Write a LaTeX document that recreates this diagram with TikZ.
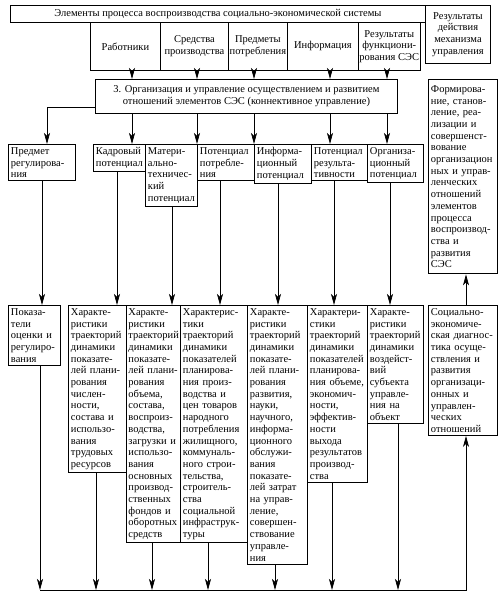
\documentclass[tikz,border=0pt]{standalone}
\usepackage{fontspec}
\setmainfont{Liberation Serif}
\usetikzlibrary{arrows.meta}

\tikzset{
  blk/.style={draw, line width=0.9pt, anchor=north west, align=left, inner xsep=2.5pt, inner ysep=3pt},
  cblk/.style={draw, line width=0.9pt, anchor=north west, align=center, inner sep=1pt},
  arr/.style={line width=0.7pt, -{Stealth[length=11pt,width=6pt,inset=3pt]}}
}

\begin{document}
\begin{tikzpicture}[x=1pt, y=-1pt, font=\fontsize{10.5}{11.7}\selectfont]
  \useasboundingbox (0,0) rectangle (500,602);
  % 顶部方框
  \node[cblk, minimum width=415pt, minimum height=17pt] (top) at (10,5) {Элементы процесса воспроизводства социально-экономической системы};
  \node[cblk, minimum width=65pt, minimum height=58pt] (res) at (425,5) {Результаты\\действия\\механизма\\управления};
  \node[cblk, minimum width=70pt, minimum height=48pt] (w1) at (90,22) {Работники};
  \node[cblk, minimum width=68pt, minimum height=48pt] (w2) at (160,22) {Средства\\производства};
  \node[cblk, minimum width=59pt, minimum height=48pt] (w3) at (228,22) {Предметы\\потребления};
  \node[cblk, minimum width=71pt, minimum height=48pt] (w4) at (287,22) {Информация};
  \node[cblk, minimum width=58pt, minimum height=48pt] (w5) at (358,22) {Результаты\\функциони-\\рования~СЭС};
  % 第3块与右侧方框
  \node[cblk, minimum width=302pt, minimum height=34pt] (box3) at (95,79) {3. Организация и управление осуществлением и развитием\\отношений элементов СЭС (коннективное управление)};
  \node[blk, text width=64pt, inner ysep=6pt] (form) at (428,79) {Формирова-\\ние,~станов-\\ление,~реа-\\лизации~и\\совершенст-\\вование\\организацион\\ных~и~управ-\\ленческих\\отношений\\элементов\\процесса\\воспроизвод-\\ства~и\\развития\\СЭС};
  % 潜力一行
  \node[blk, text width=62pt] (pr) at (8,144) {Предмет\\регулирова-\\ния};
  \node[blk, text width=47pt] (p1) at (93,144) {Кадровый\\потенциал};
  \node[blk, text width=47pt] (p2) at (145,144) {Матери-\\ально-\\техничес-\\кий\\потенциал};
  \node[blk, text width=52pt] (p3) at (197,144) {Потенциал\\потребле-\\ния};
  \node[blk, text width=52pt] (p4) at (254,144) {Информа-\\ционный\\потенциал};
  \node[blk, text width=51pt] (p5) at (311,144) {Потенциал\\результа-\\тивности};
  \node[blk, text width=51pt] (p6) at (367,144) {Организа-\\ционный\\потенциал};
  % 特征一行
  \node[blk, text width=47pt] (c0) at (8,305) {Показа-\\тели\\оценки~и\\регулиро-\\вания};
  \node[blk, text width=53pt] (c1) at (68,305) {Характе-\\ристики\\траекторий\\динамики\\показате-\\лей~плани-\\рования\\числен-\\ности,\\состава~и\\использо-\\вания\\трудовых\\ресурсов};
  \node[blk, text width=50pt, inner xsep=2pt] (c2) at (126,305) {Характе-\\ристики\\траекторий\\динамики\\показате-\\лей~плани-\\рования\\объема,\\состава,\\воспроиз-\\водства,\\загрузки~и\\использо-\\вания\\основных\\производ-\\ственных\\фондов~и\\оборотных\\средств};
  \node[blk, text width=62pt] (c3) at (180,305) {Характерис-\\тики\\траекторий\\динамики\\показателей\\планирова-\\ния~произ-\\водства~и\\цен~товаров\\народного\\потребления\\жилищного,\\коммуналь-\\ного~строи-\\тельства,\\строитель-\\ства\\социальной\\инфраструк-\\туры};
  \node[blk, text width=55pt] (c4) at (247,305) {Характе-\\ристики\\траекторий\\динамики\\показате-\\лей~плани-\\рования\\развития,\\науки,\\научного,\\информа-\\ционного\\обслужи-\\вания\\показате-\\лей~затрат\\на~управ-\\ление,\\совершен-\\ствование\\управле-\\ния};
  \node[blk, text width=55pt] (c5) at (307,305) {Характери-\\стики\\траекторий\\динамики\\показателей\\планирова-\\ния~объеме,\\экономич-\\ности,\\эффектив-\\ности\\выхода\\результатов\\производ-\\ства};
  \node[blk, text width=51pt] (c6) at (367,305) {Характе-\\ристики\\траекторий\\динамики\\воздейст-\\вий\\субъекта\\управле-\\ния~на\\объект};
  \node[blk, text width=64pt] (soc) at (428,305) {Социально-\\экономиче-\\ская~диагнос-\\тика~осуще-\\ствления~и\\развития\\организаци-\\онных~и\\управлен-\\ческих\\отношений};
  % 箭头
  \foreach \a/\x in {w1/132, w2/197, w3/254, w4/330, w5/387}
    \draw[arr] (\a.south -| \x,0) -- (box3.north -| \x,0);
  \draw[arr] (box3.west |- 0,107) -| (pr.north -| 47,0);
  \foreach \b/\x in {p1/132, p2/197, p3/254, p5/330, p6/387}
    \draw[arr] (box3.south -| \x,0) -- (\b.north -| \x,0);
  \foreach \a/\b/\x in {pr/c0/42, p1/c1/117, p2/c2/172, p3/c3/220, p4/c4/278, p5/c5/334, p6/c6/390}
    \draw[arr] (\a.south -| \x,0) -- (\b.north -| \x,0);
  % 底部汇总线
  \coordinate (bl) at (40,590);
  \coordinate (br) at (466,590);
  \foreach \a/\x in {c0/40, c1/96, c2/152, c3/208, c4/275, c5/332, c6/398}
    \draw[arr] (\a.south -| \x,0) -- (bl -| \x,0);
  \draw[arr] (bl) -- (br) -- (soc.south -| br);
  \draw[arr] (soc.north -| br) -- (form.south -| br);
\end{tikzpicture}
\end{document}
